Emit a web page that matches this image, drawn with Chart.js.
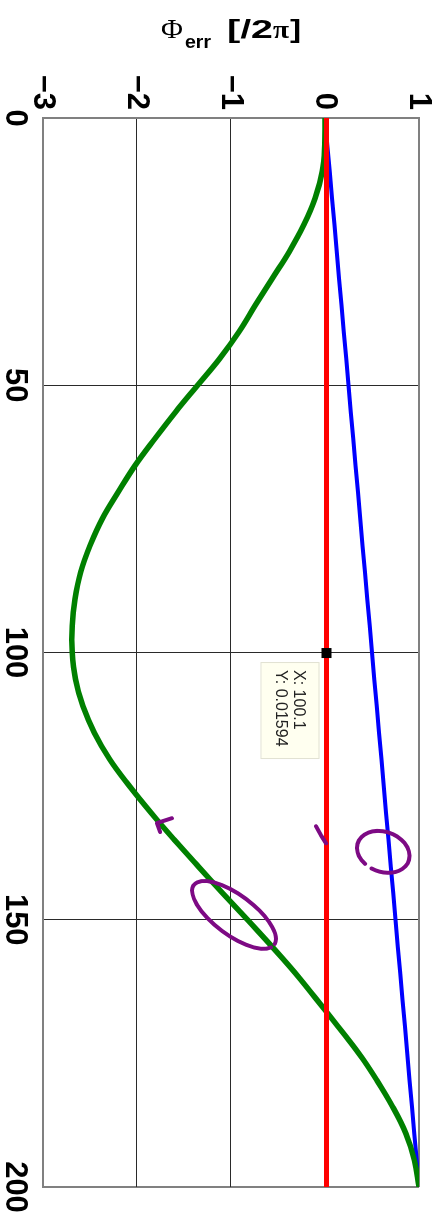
<!DOCTYPE html>
<html>
<head>
<meta charset="utf-8">
<script src="https://cdn.jsdelivr.net/npm/chart.js@4.4.1/dist/chart.umd.min.js"></script>
<style>
  html, body { margin: 0; padding: 0; background: #ffffff; width: 437px; height: 1225px; overflow: hidden; }
  #wrap { position: absolute; left: 0; top: 0; width: 1225px; height: 437px;
          transform-origin: 0 0; transform: translate(437px, 0) rotate(90deg); background: #ffffff; }
</style>
</head>
<body>
<div id="wrap"><canvas id="c" width="1225" height="437"></canvas></div>
<script>
// ---- data ----
const xValues = [0, 5, 10, 15, 20, 25, 30, 35, 40, 45, 50, 55, 60, 65, 70, 75, 80, 85, 90, 95, 100,
                 105, 110, 115, 120, 125, 130, 135, 140, 145, 150, 155, 160, 165, 170, 175, 180, 185, 190, 195, 200];
const greenValues = [0, -0.004, -0.03, -0.105, -0.225, -0.38, -0.56, -0.74, -0.915, -1.12, -1.355, -1.59, -1.81, -2.02, -2.20, -2.37, -2.50, -2.60, -2.66, -2.69, -2.69,
                     -2.655, -2.575, -2.455, -2.29, -2.08, -1.85, -1.605, -1.35, -1.09, -0.825, -0.565, -0.315, -0.085, 0.14, 0.36, 0.55, 0.72, 0.86, 0.95, 1.0];
const blueValues = [0, 0.025, 0.05, 0.075, 0.1, 0.125, 0.15, 0.175, 0.2, 0.225, 0.25, 0.275, 0.3, 0.325, 0.35, 0.375, 0.4, 0.425, 0.45, 0.475, 0.5,
                    0.525, 0.55, 0.575, 0.6, 0.625, 0.65, 0.675, 0.7, 0.725, 0.75, 0.775, 0.8, 0.825, 0.85, 0.875, 0.9, 0.925, 0.95, 0.975, 1.0];
const redValues = [0.016, 0.016, 0.016, 0.016, 0.016, 0.016, 0.016, 0.016, 0.016, 0.016, 0.016, 0.016, 0.016, 0.016, 0.016, 0.016, 0.016, 0.016, 0.016, 0.016, 0.01594,
                   0.016, 0.016, 0.016, 0.016, 0.016, 0.016, 0.016, 0.016, 0.016, 0.016, 0.016, 0.016, 0.016, 0.016, 0.016, 0.016, 0.016, 0.016, 0.016, 0.016];
const xTicks = [0, 50, 100, 150, 200];
const yTicks = [-3, -2, -1, 0, 1];
const datatip = { x: 100.1, y: 0.01594, lines: ['X: 100.1', 'Y: 0.01594'] };
const yTitle = { symbol: 'Φ', sub: 'err', unit: '[/2', pi: 'π', close: ']' };

// hand-drawn purple marks (in data units)
const markStrokes = [
  [[132.5, -0.096], [134.2, -0.043], [135.7, 0.011]],
  [[131.0, -1.628], [131.9, -1.787], [133.6, -1.755]]
];
const markLoops = [
  { x: 137.3, y: 0.62, rx: 20, ry: 27, rot: 0.35, a0: 0.5, a1: 2 * Math.PI + 0.2 },
  { x: 149.1, y: -0.968, rx: 50, ry: 20, rot: -0.93, a0: 0.2, a1: 2 * Math.PI - 0.05 }
];

const toPts = (vals) => xValues.map((x, i) => ({ x: x, y: vals[i] }));
const tickFont = { family: '"Liberation Sans", Arial, sans-serif', size: 31, weight: 'bold' };
const fmt = (v) => v < 0 ? '\u2212' + Math.abs(v) : String(v);

const titlePlugin = {
  id: 'ytitle',
  afterDraw(chart) {
    const ctx = chart.ctx, a = chart.chartArea;
    const vc = (a.top + a.bottom) / 2;
    const parts = [
      { t: yTitle.symbol, font: '28px "Liberation Serif", serif', dx: 0, dy: 0, w: 22 },
      { t: yTitle.sub, font: 'bold 19px "Liberation Sans", Arial, sans-serif', dx: 24, dy: 10, w: 26 },
      { t: yTitle.unit, font: 'bold 26px "Liberation Sans", Arial, sans-serif', dx: 66, dy: 0, w: 46 },
      { t: yTitle.pi, font: 'bold 26px "Liberation Serif", serif', dx: 112, dy: 0, w: 16 },
      { t: yTitle.close, font: 'bold 26px "Liberation Sans", Arial, sans-serif', dx: 129, dy: 0, w: 11 }
    ];
    ctx.save();
    ctx.translate(38, vc + 70);
    ctx.rotate(-Math.PI / 2);
    ctx.fillStyle = '#000';
    ctx.textBaseline = 'alphabetic';
    ctx.textAlign = 'left';
    for (const p of parts) {
      ctx.save();
      ctx.font = p.font;
      const w = ctx.measureText(p.t).width;
      ctx.translate(p.dx, p.dy);
      ctx.scale(p.w / w, 1);
      ctx.fillText(p.t, 0, 0);
      ctx.restore();
    }
    ctx.restore();
  }
};

const overlayPlugin = {
  id: 'overlay',
  afterDatasetsDraw(chart) {
    const ctx = chart.ctx, xs = chart.scales.x, ys = chart.scales.y;
    // purple hand marks
    ctx.save();
    ctx.strokeStyle = '#7d0a84';
    ctx.lineWidth = 4;
    ctx.lineCap = 'round';
    ctx.lineJoin = 'round';
    for (const s of markStrokes) {
      ctx.beginPath();
      s.forEach((p, i) => {
        const px = xs.getPixelForValue(p[0]), py = ys.getPixelForValue(p[1]);
        if (i === 0) ctx.moveTo(px, py); else ctx.lineTo(px, py);
      });
      ctx.stroke();
    }
    for (const l of markLoops) {
      ctx.beginPath();
      ctx.ellipse(xs.getPixelForValue(l.x), ys.getPixelForValue(l.y), l.rx, l.ry, l.rot, l.a0, l.a1);
      ctx.stroke();
    }
    ctx.restore();

    // data tip
    const px = xs.getPixelForValue(datatip.x), py = ys.getPixelForValue(datatip.y);
    ctx.save();
    ctx.fillStyle = '#fffff0';
    ctx.strokeStyle = '#e2e2d2';
    ctx.lineWidth = 1;
    ctx.fillRect(px + 9, py + 7, 96, 58);
    ctx.strokeRect(px + 9.5, py + 7.5, 96, 58);
    ctx.fillStyle = '#000';
    ctx.fillRect(px - 5, py - 5, 10, 10);
    ctx.fillStyle = '#222';
    ctx.font = '16px "Liberation Sans", Arial, sans-serif';
    ctx.textBaseline = 'alphabetic';
    ctx.textAlign = 'left';
    ctx.fillText(datatip.lines[0], px + 17, py + 32);
    ctx.fillText(datatip.lines[1], px + 17, py + 50);
    ctx.restore();
  }
};

const gridColor = (c) => {
  const t = c.tick; const s = c.scale;
  if (t && (t.value === s.min || t.value === s.max)) return '#808080';
  return '#2a2a2a';
};
const gridWidth = (c) => {
  const t = c.tick; const s = c.scale;
  if (t && (t.value === s.min || t.value === s.max)) return 2;
  return 1;
};

new Chart(document.getElementById('c'), {
  type: 'line',
  data: {
    datasets: [
      { label: 'red', data: toPts(redValues), borderColor: '#ff0000', borderWidth: 5, pointRadius: 0, order: 0 },
      { label: 'green', data: toPts(greenValues), borderColor: '#008000', borderWidth: 5.5, pointRadius: 0, tension: 0.4, order: 1 },
      { label: 'blue', data: toPts(blueValues), borderColor: '#0000ff', borderWidth: 4, pointRadius: 0, order: 2 }
    ]
  },
  options: {
    responsive: false,
    devicePixelRatio: 1,
    animation: false,
    events: [],
    layout: { padding: { top: 18, right: 38, left: 0, bottom: 0 } },
    plugins: { legend: { display: false }, tooltip: { enabled: false }, title: { display: false } },
    scales: {
      x: {
        type: 'linear', min: 0, max: 200,
        afterBuildTicks: (s) => { s.ticks = xTicks.map(v => ({ value: v })); },
        afterFit: (s) => { s.height = 43; s.paddingLeft = 0; s.paddingRight = 0; },
        ticks: { font: tickFont, color: '#000', padding: 10, maxRotation: 0, autoSkip: false, callback: fmt },
        grid: { color: gridColor, lineWidth: gridWidth, drawTicks: false },
        border: { display: true, color: '#808080', width: 2 }
      },
      y: {
        type: 'linear', min: -3, max: 1,
        afterBuildTicks: (s) => { s.ticks = yTicks.map(v => ({ value: v })); },
        afterFit: (s) => { s.width = 118; s.paddingTop = 0; s.paddingBottom = 0; },
        ticks: { font: tickFont, color: '#000', padding: 8, autoSkip: false, callback: fmt },
        grid: { color: gridColor, lineWidth: gridWidth, drawTicks: false },
        border: { display: true, color: '#808080', width: 2 }
      }
    }
  },
  plugins: [titlePlugin, overlayPlugin]
});
</script>
</body>
</html>
